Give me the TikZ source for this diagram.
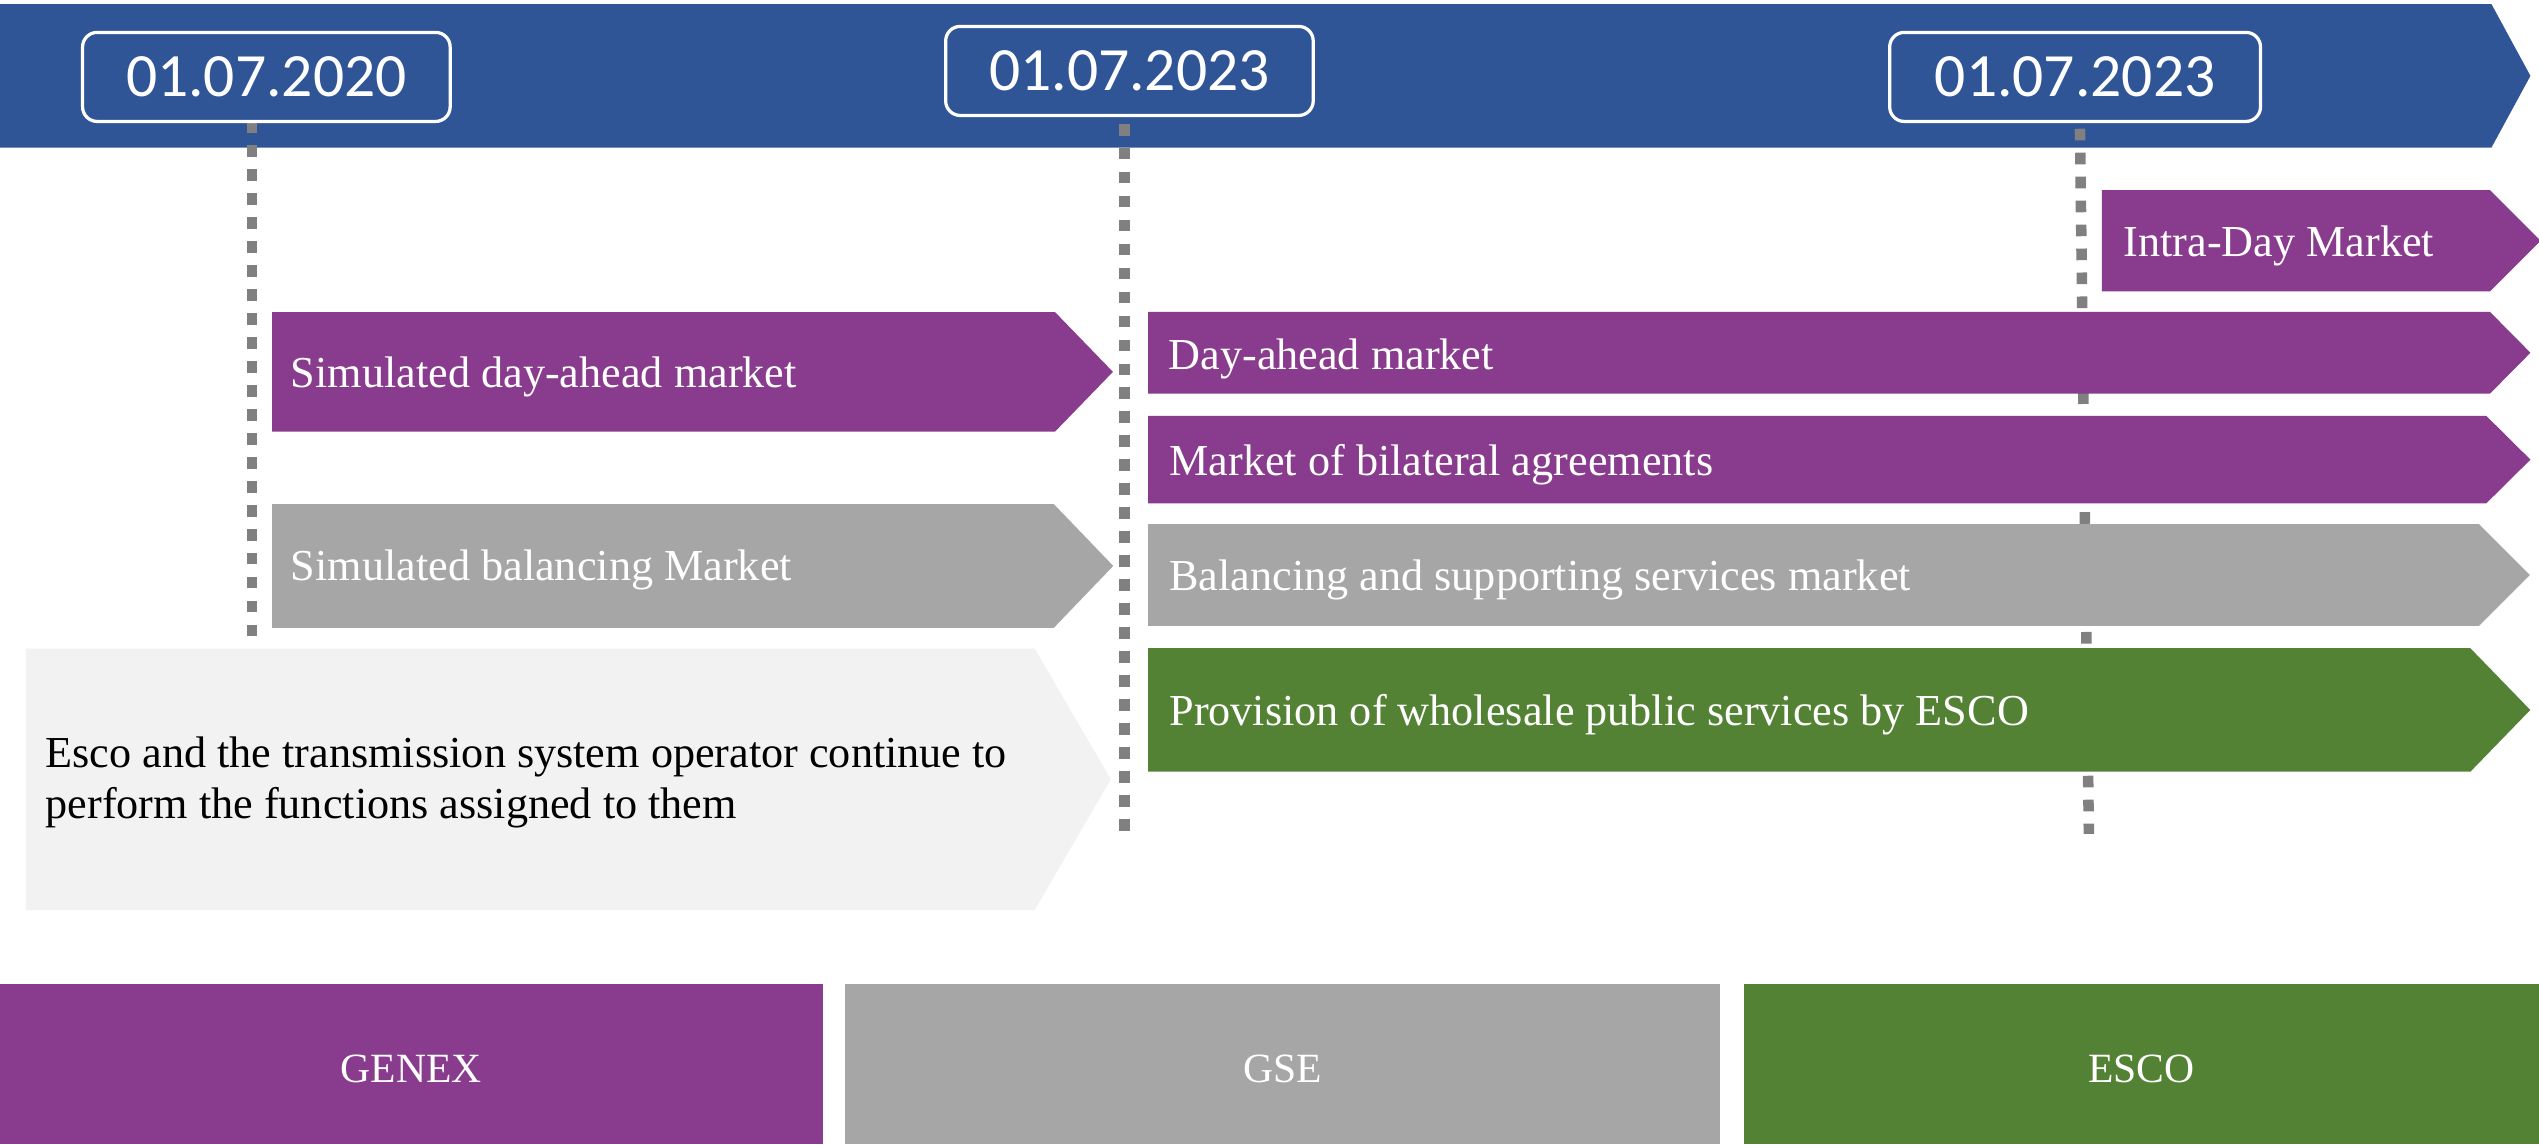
\documentclass[tikz,border=0pt]{standalone}
\usepackage{fontspec}
\setmainfont{Liberation Serif}
\newfontfamily\datefont{Carlito}
\definecolor{bannerblue}{HTML}{2F5597}
\definecolor{mpurple}{HTML}{893B8D}
\definecolor{mgray}{HTML}{A6A6A6}
\definecolor{mgreen}{HTML}{548235}
\definecolor{mlight}{HTML}{F2F2F2}
\definecolor{dashgray}{HTML}{808080}
\tikzset{
  lbl/.style={anchor=base west, inner sep=0pt, text=white, font=\fontsize{27.3}{31.5}\selectfont},
  darklbl/.style={lbl, text=black},
  barlbl/.style={anchor=base, inner sep=0pt, text=white, font=\fontsize{25.7}{28}\selectfont},
  datebox/.style={draw=white, line width=2pt, fill=bannerblue, rounded corners=9pt, text=white,
    font=\datefont\fontsize{38}{40}\selectfont, minimum height=55pt, minimum width=227pt, inner sep=0pt},
  dashline/.style={draw=dashgray, line width=6.5pt, dash pattern=on 7.2pt off 7.6pt}
}
\newcommand\chevron[6]{% color, left, top, bottom, body right, tip
  \fill[#1] (#2,#3) -- (#5,#3) -- (#6,{(#3+#4)/2}) -- (#5,#4) -- (#2,#4) -- cycle;}
\begin{document}
\begin{tikzpicture}[x=1pt,y=-1pt]
\useasboundingbox (0,0) rectangle (1568,706.5);
% banner
\chevron{bannerblue}{0}{2.5}{91.2}{1538.6}{1562.7}
% dashed timeline lines
\coordinate (l1t) at (155.7,75);
\coordinate (l1b) at (155.7,400);
\coordinate (l2t) at (694.3,76.5);
\coordinate (l2b) at (694.3,514);
\coordinate (l3t) at (1284.5,79.5);
\coordinate (l3b) at (1290,515);
\draw[dashline] (l1t) -- (l1b);
\draw[dashline] (l2t) -- (l2b);
\draw[dashline] (l3t) -- (l3b);
% chevrons
\chevron{mpurple}{1298}{117.4}{180}{1537.7}{1569}
\chevron{mpurple}{168}{192.7}{266.6}{651.5}{687.3}
\chevron{mpurple}{709}{192.6}{243.1}{1537.7}{1562.7}
\chevron{mpurple}{709}{256.8}{310.9}{1535.4}{1562.7}
\chevron{mgray}{168}{311.3}{387.7}{650.8}{687.5}
\chevron{mgray}{709}{323.7}{386.5}{1531}{1562.3}
\chevron{mlight}{16}{400.5}{562}{639}{686}
\chevron{mgreen}{709}{400.3}{476.6}{1525.6}{1562.6}
% labels
\node[lbl] (intra) at (1311.3,158.1) {Intra-Day Market};
\node[lbl] (simda) at (179.5,239.5) {Simulated day-ahead market};
\node[lbl] (da) at (721.5,227.9) {Day-ahead market};
\node[lbl] (bil) at (722,293.8) {Market of bilateral agreements};
\node[lbl] (simbal) at (179.5,358.7) {Simulated balancing Market};
\node[lbl] (bal) at (722,364.4) {Balancing and supporting services market};
\node[lbl] (prov) at (722,447.8) {Provision of wholesale public services by ESCO};
\node[darklbl] (esco1) at (28,474) {Esco and the transmission system operator continue to};
\node[darklbl] (esco2) at (28,505.5) {perform the functions assigned to them};
% date boxes
\node[datebox] (d1) at (164.5,47.5) {01.07.2020};
\node[datebox] (d2) at (697.5,43.8) {01.07.2023};
\node[datebox, minimum width=229pt] (d3) at (1281.5,47.5) {01.07.2023};
% bottom bars
\fill[mpurple] (0,607.8) rectangle (508,706.5);
\fill[mgray] (522,607.8) rectangle (1062,706.5);
\fill[mgreen] (1077,607.8) rectangle (1568,706.5);
\node[barlbl] (genex) at (254,668.5) {GENEX};
\node[barlbl] (gse) at (792,668.5) {GSE};
\node[barlbl] (esco) at (1322.5,668.5) {ESCO};
\end{tikzpicture}
\end{document}
